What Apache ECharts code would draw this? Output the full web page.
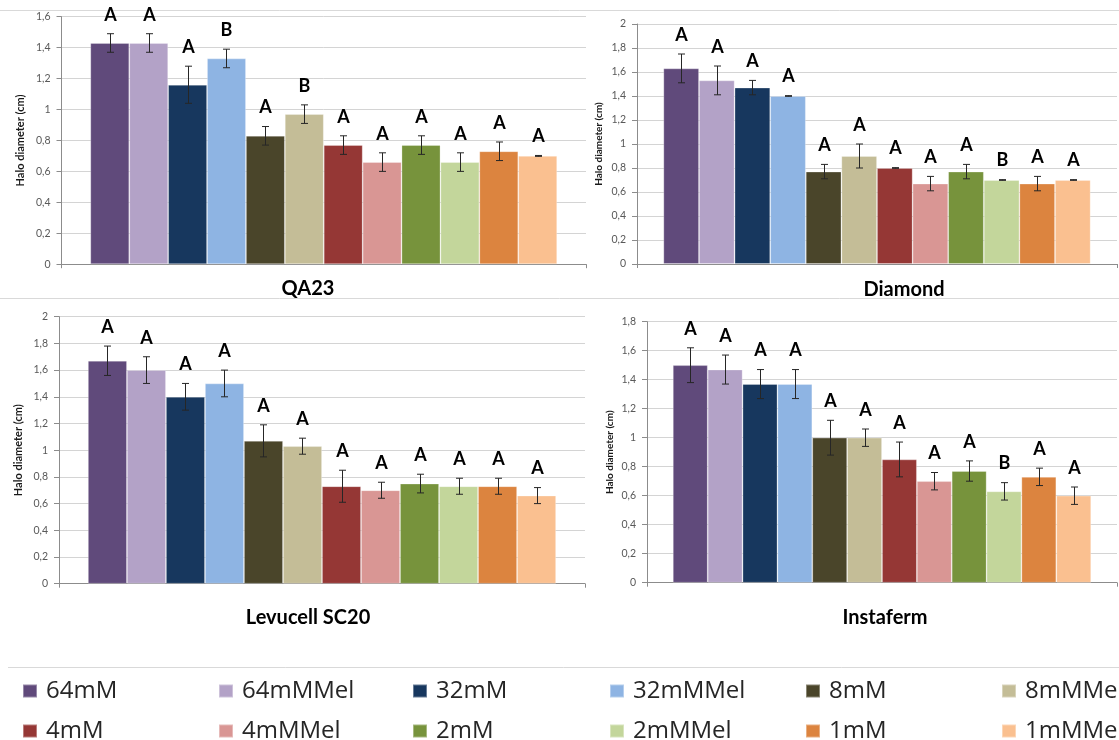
<!DOCTYPE html>
<html>
<head>
<meta charset="utf-8">
<script src="https://cdn.jsdelivr.net/npm/echarts@6/dist/echarts.min.js"></script>
<style>
html,body{margin:0;padding:0;background:#fff;}
#chart{width:1119px;height:740px;}
</style>
</head>
<body>
<div id="chart"></div>
<script>
// ---------- DATA ----------
const seriesNames = ['64mM','64mMMel','32mM','32mMMel','8mM','8mMMel','4mM','4mMMel','2mM','2mMMel','1mM','1mMMel'];
const palette = ['#604A7B','#B3A2C7','#17375E','#8EB4E3','#4A452A','#C4BD97','#953735','#D99694','#77933C','#C3D69B','#DC843F','#FAC090'];
const panelTitles = ['QA23','Diamond','Levucell SC20','Instaferm'];
const yAxisTitle = 'Halo diameter (cm)';
const yMaxValues = [1.6, 2, 2, 1.8];
const yTickStep = 0.2;

const qa23Values = [1.43,1.43,1.16,1.33,0.83,0.97,0.77,0.66,0.77,0.66,0.73,0.70];
const qa23Errors = [0.06,0.06,0.12,0.06,0.06,0.06,0.06,0.06,0.06,0.06,0.06,0.003];
const qa23Letters = ['A','A','A','B','A','B','A','A','A','A','A','A'];

const diamondValues = [1.63,1.53,1.47,1.40,0.77,0.90,0.80,0.67,0.77,0.70,0.67,0.70];
const diamondErrors = [0.12,0.12,0.06,0.003,0.06,0.10,0.003,0.06,0.06,0.003,0.06,0.003];
const diamondLetters = ['A','A','A','A','A','A','A','A','A','B','A','A'];

const levucellValues = [1.67,1.60,1.40,1.50,1.07,1.03,0.73,0.70,0.75,0.73,0.73,0.66];
const levucellErrors = [0.11,0.10,0.10,0.10,0.12,0.06,0.12,0.06,0.07,0.06,0.06,0.06];
const levucellLetters = ['A','A','A','A','A','A','A','A','A','A','A','A'];

const instafermValues = [1.50,1.47,1.37,1.37,1.00,1.00,0.85,0.70,0.77,0.63,0.73,0.60];
const instafermErrors = [0.12,0.10,0.10,0.10,0.12,0.06,0.12,0.06,0.07,0.06,0.06,0.06];
const instafermLetters = ['A','A','A','A','A','A','A','A','A','B','A','A'];

const panelValues = [qa23Values, diamondValues, levucellValues, instafermValues];
const panelErrors = [qa23Errors, diamondErrors, levucellErrors, instafermErrors];
const panelLetters = [qa23Letters, diamondLetters, levucellLetters, instafermLetters];

// ---------- LAYOUT ----------
const FONT = 'Lato';
const CAT_GAP = 0.11;
const panels = [
  {left:61.5, top:16.7, width:524.5, height:247.5, nameGap:36, nameSize:11, tx:303, ty:283.3},
  {left:637,  top:24,   width:480,   height:240,   nameGap:33, nameSize:10, tx:899, ty:285},
  {left:59,   top:316.7,width:526,   height:267,   nameGap:35, nameSize:11, tx:303, ty:612.3},
  {left:647,  top:321.7,width:470,   height:261,   nameGap:32, nameSize:10, tx:880, ty:612.3}
];
const legendCols = [22, 218, 412, 609, 805, 1001];
const legendRows = [678, 718];

function fmt(v){ return String(+v.toFixed(1)).replace('.', ','); }

const grid = [], xAxis = [], yAxis = [], series = [], title = [], legend = [];
panels.forEach((p, g) => {
  grid.push({left:p.left, top:p.top, width:p.width, height:p.height, containLabel:false});
  xAxis.push({
    type:'category', gridIndex:g, data:[''],
    axisLine:{show:true, lineStyle:{color:'#8c8c8c', width:1}},
    axisTick:{show:true, length:4, lineStyle:{color:'#8c8c8c'}},
    axisLabel:{show:false}
  });
  yAxis.push({
    type:'value', gridIndex:g, min:0, max:yMaxValues[g], interval:yTickStep,
    name:yAxisTitle, nameLocation:'middle', nameGap:p.nameGap,
    nameTextStyle:{fontFamily:FONT, fontWeight:'bold', fontSize:p.nameSize, color:'#1a1a1a'},
    axisLine:{show:true, lineStyle:{color:'#8c8c8c', width:1}},
    axisTick:{show:true, length:5, lineStyle:{color:'#8c8c8c'}},
    axisLabel:{fontFamily:FONT, fontSize:10.5, color:'#595959', margin:11, formatter:fmt},
    splitLine:{show:true, lineStyle:{color:'#d4d4d4', width:1}}
  });
  seriesNames.forEach((name, i) => {
    series.push({
      type:'bar', name:name, xAxisIndex:g, yAxisIndex:g,
      data:[panelValues[g][i]],
      barGap:0, barCategoryGap:(CAT_GAP*100)+'%',
      itemStyle:{color:palette[i], borderColor:'rgba(255,255,255,0.35)', borderWidth:0.8},
      emphasis:{disabled:true}, animation:false
    });
  });
  series.push({
    type:'custom', xAxisIndex:g, yAxisIndex:g, z:10, animation:false, silent:true,
    data: panelValues[g].map((v, i) => [0, v, panelErrors[g][i]]),
    encode:{x:0, y:1},
    renderItem: function(params, api){
      const i = params.dataIndex;
      const v = api.value(1), e = api.value(2);
      const c = api.coord([0, v]);
      const band = api.size([1, 0])[0];
      const area = band * (1 - CAT_GAP);
      const bw = area / seriesNames.length;
      const x = Math.round(c[0] - area/2 + (i + 0.5) * bw) + 0.5;
      const yt = api.coord([0, v + e])[1];
      const yb = api.coord([0, v - e])[1];
      const st = {stroke:'#262626', lineWidth:1};
      return {type:'group', children:[
        {type:'line', shape:{x1:x, y1:yt, x2:x, y2:yb}, style:st},
        {type:'line', shape:{x1:x-3.5, y1:yt, x2:x+3.5, y2:yt}, style:st},
        {type:'line', shape:{x1:x-3.5, y1:yb, x2:x+3.5, y2:yb}, style:st},
        {type:'text', x:x, y:yt - 10, style:{text:panelLetters[g][i], font:'bold 18px '+FONT, fill:'#000', align:'center', verticalAlign:'bottom'}}
      ]};
    }
  });
  title.push({
    text:panelTitles[g], left:p.tx, top:p.ty - 12, textAlign:'center',
    textStyle:{fontFamily:FONT, fontWeight:'bold', fontSize:20, lineHeight:24, color:'#000'}
  });
});

seriesNames.forEach((name, i) => {
  legend.push({
    data:[name], left:legendCols[i % 6], top:legendRows[Math.floor(i / 6)],
    padding:0, itemWidth:14, itemHeight:13, icon:'rect', selectedMode:false,
    textStyle:{fontFamily:'Open Sans', fontSize:24, lineHeight:26, color:'#262626', padding:[0,0,0,4]}
  });
});

const chart = echarts.init(document.getElementById('chart'), null, {renderer:'canvas'});
chart.setOption({
  backgroundColor:'#ffffff',
  animation:false,
  title:title, grid:grid, xAxis:xAxis, yAxis:yAxis, series:series, legend:legend,
  graphic:[
    {type:'line', shape:{x1:0, y1:10.5, x2:1119, y2:10.5}, style:{stroke:'#d9d9d9', lineWidth:1}, z:-1},
    {type:'line', shape:{x1:0, y1:298.5, x2:1119, y2:298.5}, style:{stroke:'#d9d9d9', lineWidth:1}, z:-1},
    {type:'line', shape:{x1:8, y1:667.5, x2:1119, y2:667.5}, style:{stroke:'#d9d9d9', lineWidth:1}, z:-1}
  ]
});
</script>
</body>
</html>
